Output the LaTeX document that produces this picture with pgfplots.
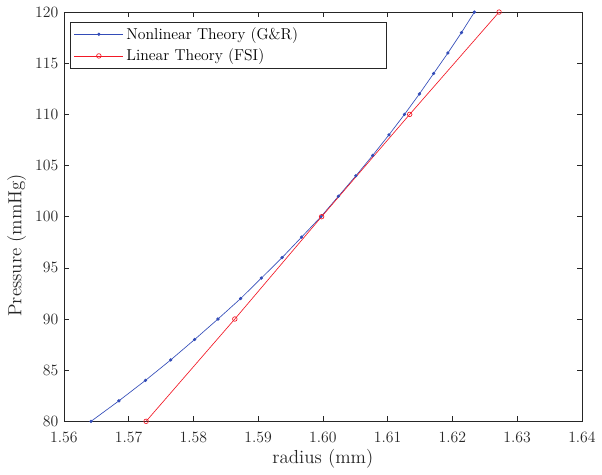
\documentclass[border={2.2pt 2pt 1.5pt 2pt}]{standalone}
\usepackage{pgfplots}
\pgfplotsset{compat=1.18}
\definecolor{nlblue}{rgb}{0.2,0.3,0.72}
\definecolor{lred}{rgb}{0.95,0.1,0.15}
\definecolor{axgray}{rgb}{0.15,0.15,0.15}
\begin{document}
\begin{tikzpicture}
\begin{axis}[
  scale only axis,
  width=395pt, height=312pt,
  xmin=1.56, xmax=1.64, ymin=80, ymax=120,
  xtick={1.56,1.57,...,1.64},
  ytick={80,85,...,120},
  xticklabel style={yshift=-4.5pt, /pgf/number format/fixed, /pgf/number format/fixed zerofill, /pgf/number format/precision=2},
  yticklabel style={xshift=-0.7pt},
  tick label style={font=\fontsize{11.5}{13}\selectfont, text=axgray},
  label style={font=\fontsize{14.4}{16}\selectfont, text=axgray},
  xlabel={radius (mm)},
  ylabel={Pressure (mmHg)},
  every axis y label/.append style={at={(ticklabel cs:0.43)}},
  xlabel style={yshift=1.5pt},
  tick align=inside,
  major tick length=3.8pt,
  axis line style={axgray},
  every tick/.style={axgray, line width=0.4pt},
  legend style={at={(rel axis cs:0.0114,0.976)}, anchor=north west,
    font=\fontsize{12}{14}\selectfont, draw=axgray, inner xsep=3pt, inner ysep=2pt,
    row sep=2pt},
  legend cell align=left,
  legend image code/.code={\draw[#1] (0pt,0pt) -- (37.5pt,0pt); \draw[#1,only marks] plot coordinates {(18.75pt,0pt)};},
]
\addplot[color=nlblue, mark=*, mark size=1pt, line width=0.5pt] coordinates {
(1.5642,80) (1.5685,82) (1.5726,84) (1.5765,86) (1.5802,88) (1.5838,90)
(1.5873,92) (1.5905,94) (1.5937,96) (1.5967,98) (1.5997,100) (1.6024,102)
(1.6051,104) (1.6077,106) (1.6102,108) (1.6126,110) (1.6149,112) (1.6171,114)
(1.6193,116) (1.6214,118) (1.6234,120)
};
\addlegendentry{\makebox[193pt][l]{Nonlinear Theory (G\&R)}}
\addplot[color=lred, mark=o, mark size=1.75pt, line width=0.5pt] coordinates {
(1.5727,80) (1.5864,90) (1.5998,100) (1.6134,110) (1.6272,120)
};
\addlegendentry{\makebox[193pt][l]{Linear Theory (FSI)}}
\end{axis}
\end{tikzpicture}
\end{document}
